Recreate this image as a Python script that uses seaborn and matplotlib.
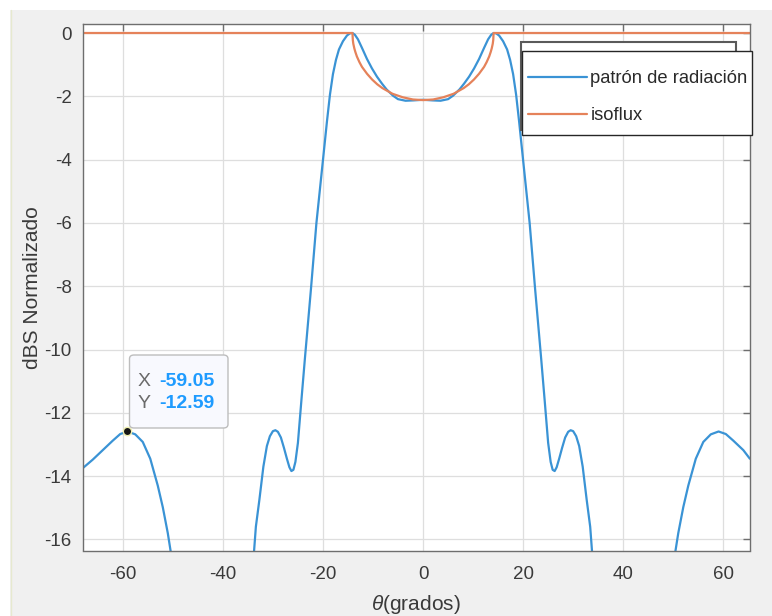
import matplotlib
matplotlib.use('Agg')
import matplotlib.pyplot as plt
import seaborn as sns
from matplotlib.patches import FancyBboxPatch, Rectangle
from matplotlib.lines import Line2D

# ---------------- data ----------------
theta_pat = [-68.0, -66.0, -64.0, -62.0, -60.5, -59.05, -57.5, -56.0, -54.5, -53.0, -52.0, -51.0, -50.2, -49.8,
             -34.2, -33.4, -32.7, -31.9, -31.2, -30.6, -30.0, -29.5, -29.0, -28.4, -27.8, -27.2, -26.7, -26.3,
             -25.9, -25.5, -25.0, -24.3, -23.6, -22.4, -21.3, -19.9, -19.2, -18.6, -18.0, -17.4, -16.8, -16.0,
             -15.2, -14.6, -14.1, -13.6, -13.0, -12.2, -11.2, -10.2, -9.2, -8.2, -7.3, -6.0, -5.0, -3.5, -2.0, 0.0,
             2.0, 3.5, 5.0, 6.0, 7.3, 8.2, 9.2, 10.2, 11.2, 12.2, 13.0, 13.6, 14.1, 14.6, 15.2, 16.0, 16.8, 17.4,
             18.0, 18.6, 19.2, 19.9, 21.3, 22.4, 23.6, 24.3, 25.0, 25.5, 25.9, 26.3, 26.7, 27.2, 27.8, 28.4, 29.0,
             29.5, 30.0, 30.6, 31.2, 31.9, 32.7, 33.4, 34.2,
             49.8, 50.2, 51.0, 52.0, 53.0, 54.5, 56.0, 57.5, 59.05, 60.5, 62.0, 64.0, 65.3]
db_pat = [-13.75, -13.48, -13.18, -12.88, -12.67, -12.59, -12.68, -12.92, -13.45, -14.3, -14.98, -15.8, -16.6, -17.3,
          -17.3, -15.6, -14.75, -13.7, -13.05, -12.74, -12.58, -12.55, -12.6, -12.78, -13.1, -13.45, -13.72, -13.84,
          -13.8, -13.55, -12.95, -11.6, -10.28, -8.1, -6.0, -3.87, -2.8, -1.95, -1.3, -0.85, -0.52, -0.26,
          -0.08, -0.01, 0.0, -0.06, -0.2, -0.47, -0.82, -1.12, -1.38, -1.6, -1.78, -1.98, -2.09, -2.14, -2.13, -2.11,
          -2.13, -2.14, -2.09, -1.98, -1.78, -1.6, -1.38, -1.12, -0.82, -0.47, -0.2, -0.06, 0.0, -0.01, -0.08, -0.26,
          -0.52, -0.85, -1.3, -1.95, -2.8, -3.87, -6.0, -8.1, -10.28, -11.6, -12.95, -13.55, -13.8, -13.84, -13.72,
          -13.45, -13.1, -12.78, -12.6, -12.55, -12.58, -12.74, -13.05, -13.7, -14.75, -15.6, -17.3,
          -17.3, -16.6, -15.8, -14.98, -14.3, -13.45, -12.92, -12.68, -12.59, -12.67, -12.88, -13.18, -13.45]

theta_iso = [-68.0, -14.1, -14.05, -14.03, -13.93, -13.72, -13.52, -13.22, -12.71, -12.2, -11.18, -10.17, -9.15,
             -8.13, -6.1, -4.07, -2.03, 0.0, 2.03, 4.07, 6.1, 8.13, 9.15, 10.17, 11.18, 12.2, 12.71, 13.22,
             13.52, 13.72, 13.93, 14.03, 14.05, 14.1, 65.3]
db_iso = [0.0, 0.0, -0.15, -0.22, -0.34, -0.49, -0.60, -0.74, -0.92, -1.07, -1.29, -1.47, -1.62,
          -1.74, -1.92, -2.03, -2.10, -2.12, -2.10, -2.03, -1.92, -1.74, -1.62, -1.47, -1.29, -1.07, -0.92, -0.74,
          -0.60, -0.49, -0.34, -0.22, -0.15, 0.0, 0.0]

xticks = [-60, -40, -20, 0, 20, 40, 60]
yticks = [0, -2, -4, -6, -8, -10, -12, -14, -16]
tip_x, tip_y = -59.05, -12.59
labels = ['patrón de radiación', 'isoflux']

# ---------------- style ----------------
sns.set_theme(style='white')
plt.rcParams['font.family'] = ['Liberation Sans', 'DejaVu Sans']
plt.rcParams['mathtext.fontset'] = 'custom'
plt.rcParams['mathtext.it'] = 'Liberation Sans:italic'
plt.rcParams['mathtext.rm'] = 'Liberation Sans'

W, H = 772, 616
def fx(px): return px / W
def fy(py): return 1 - py / H

fig = plt.figure(figsize=(W / 100, H / 100), dpi=100, facecolor='#F0F0F0')
# white margins on top / left edge of the screenshot
fig.add_artist(Rectangle((0, fy(10)), 1, 10 / H, transform=fig.transFigure, fc='white', ec='none', zorder=-5))
fig.add_artist(Rectangle((0, 0), 10 / W, 1, transform=fig.transFigure, fc='white', ec='none', zorder=-5))
fig.add_artist(Line2D([fx(10.5), fx(10.5)], [0, fy(10)], transform=fig.transFigure, color='#E6E9CF', lw=1, zorder=-4))

ax = fig.add_axes([fx(82.7), fy(550.5), fx(749.6) - fx(82.7), fy(24.3) - fy(550.5)])
ax.set_facecolor('white')

blue = '#3A93D5'
orange = '#E5825A'
sns.lineplot(x=theta_pat, y=db_pat, ax=ax, color=blue, lw=1.6, label=labels[0], sort=False, estimator=None)
sns.lineplot(x=theta_iso, y=db_iso, ax=ax, color=orange, lw=1.6, label=labels[1], sort=False, estimator=None)

ax.plot([tip_x], [tip_y], 'o', ms=6, mfc='#151515', mec='#EFEFB0', mew=1.0, zorder=6, clip_on=False)

ax.set_xlim(-68.0, 65.25)
ax.set_ylim(-16.35, 0.275)
ax.set_xticks(xticks)
ax.set_yticks(yticks)
ax.set_xticklabels([str(t) for t in xticks])
ax.set_yticklabels([str(t) for t in yticks])
ax.grid(True, color='#DEDEDE', lw=0.9)
ax.set_axisbelow(True)
for s in ax.spines.values():
    s.set_color('#6E6E6E')
    s.set_linewidth(1.0)
ax.tick_params(direction='in', length=5, width=1, top=True, right=True, color='#6E6E6E',
               labelcolor='#3A3A3A', labelsize=13.5)
ax.tick_params(axis='x', pad=11)
ax.tick_params(axis='y', pad=8)

ax.set_xlabel(r'$\theta$(grados)', fontsize=15, color='#3A3A3A', labelpad=7)
ax.set_ylabel('dBS Normalizado', fontsize=15, color='#3A3A3A', labelpad=2)

# legend boxes (front frame + the stale duplicate frame behind it)
back = Rectangle((fx(521), fy(130)), fx(736) - fx(521), fy(41.7) - fy(130), transform=fig.transFigure,
                 fc='white', ec='#5A5A5A', lw=1.5, zorder=4, clip_on=False)
ax.add_artist(back)
front = Rectangle((fx(521.7), fy(135)), fx(752) - fx(521.7), fy(50.7) - fy(135), transform=fig.transFigure,
                  fc='white', ec='#262626', lw=1.0, zorder=5, clip_on=False)
ax.add_artist(front)
leg = ax.legend(loc='upper left', bbox_to_anchor=(fx(528), fy(70)), bbox_transform=fig.transFigure,
                borderaxespad=0, frameon=False, fontsize=13.2,
                handlelength=3.2, handletextpad=0.2, labelspacing=1.1, borderpad=0)
leg.set_zorder(10)
for t in leg.get_texts():
    t.set_color('#2A2A2A')

# data tip
tip = FancyBboxPatch((fx(129.5), fy(428)), fx(228) - fx(129.5), fy(355) - fy(428),
                     boxstyle='round,pad=0,rounding_size=0.006', transform=fig.transFigure,
                     fc='#F8F9FE', ec='#BDBDBD', lw=1.0, zorder=3)
fig.add_artist(tip)
fig.text(fx(138), fy(381), 'X', color='#6A6A6A', fontsize=14, va='center', zorder=4)
fig.text(fx(159), fy(381), f'{tip_x:.2f}', color='#1E9BFF', fontsize=14, fontweight='bold', va='center', zorder=4)
fig.text(fx(138), fy(404), 'Y', color='#6A6A6A', fontsize=14, va='center', zorder=4)
fig.text(fx(159), fy(404), f'{tip_y:.2f}', color='#1E9BFF', fontsize=14, fontweight='bold', va='center', zorder=4)

fig.savefig('out.png', dpi=100, facecolor=fig.get_facecolor())
